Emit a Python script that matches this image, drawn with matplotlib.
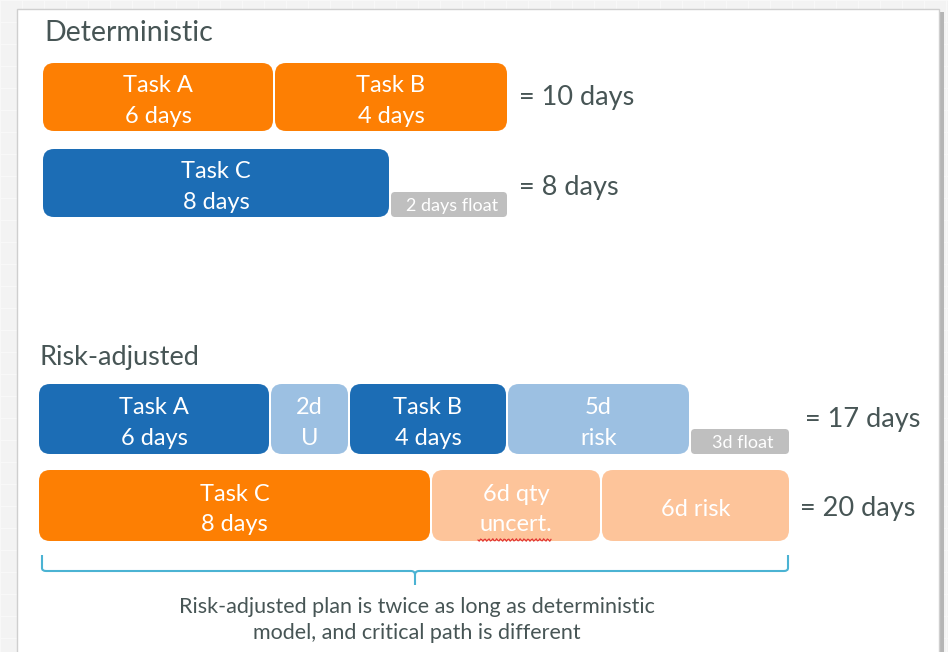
import numpy as np
import matplotlib.pyplot as plt
from matplotlib.patches import FancyBboxPatch, Rectangle, PathPatch
from matplotlib.path import Path

plt.rcParams['font.family'] = ['Lato', 'DejaVu Sans']

# segment lengths as drawn on the slide (x units), labels and colour keys per row
det_row1_labels = ["Task A\n6 days", "Task B\n4 days"]
det_row1_widths = [232, 234]
det_row1_kinds = ["orange", "orange"]
det_row1_total = "= 10 days"

det_row2_labels = ["Task C\n8 days", "2 days float"]
det_row2_widths = [348, 118]
det_row2_kinds = ["blue", "float"]
det_row2_total = "= 8 days"

risk_row1_labels = ["Task A\n6 days", "2d\nU", "Task B\n4 days", "5d\nrisk", "3d float"]
risk_row1_widths = [232, 79, 158, 183, 100]
risk_row1_kinds = ["blue", "lightblue", "blue", "lightblue", "float"]
risk_row1_total = "= 17 days"

risk_row2_labels = ["Task C\n8 days", "6d qty\nuncert.", "6d risk"]
risk_row2_widths = [393, 170, 189]
risk_row2_kinds = ["orange", "lightorange", "lightorange"]
risk_row2_total = "= 20 days"

caption = "Risk-adjusted plan is twice as long as deterministic\nmodel, and critical path is different"

colors = {"orange": "#fd7f03", "blue": "#1c6db5", "lightblue": "#9cc0e2",
          "lightorange": "#fdc49a", "float": "#bfbfbf"}
text_col = "#475555"

fig = plt.figure(figsize=(9.48, 6.52), dpi=100)
fig.patch.set_facecolor("#f3f3f3")
ax = fig.add_axes([0, 0, 1, 1])
ax.set_xlim(0, 948)
ax.set_ylim(652, 0)
ax.axis("off")

# faint grid of the background
for g in range(0, 948, 22):
    ax.axvline(g, color="#f8f8f8", lw=0.8, zorder=0)
for g in range(0, 652, 22):
    ax.axhline(g, color="#f8f8f8", lw=0.8, zorder=0)

# slide panel with shadow
ax.add_patch(Rectangle((21, 12), 923, 660, facecolor="#b5b5b5", edgecolor="none", zorder=1))
ax.add_patch(Rectangle((17, 9), 922, 660, facecolor="white", edgecolor="#cfcfcf", lw=1, zorder=2))


def draw_row(x0, top, height, labels, widths, kinds, total, total_x, total_dy=1):
    x = x0
    for lab, w, k in zip(labels, widths, kinds):
        if k == "float":
            h = 25
            y = top + height - h
            ax.add_patch(FancyBboxPatch((x + 1, y), w - 2, h,
                                        boxstyle="round,pad=0,rounding_size=4",
                                        facecolor=colors[k], edgecolor="none", zorder=3))
            ax.text(x + w / 2 + 3, y + h / 2 + 1, lab, color="white", fontsize=13,
                    ha="center", va="center", zorder=4)
        else:
            ax.add_patch(FancyBboxPatch((x + 1, top), w - 2, height,
                                        boxstyle="round,pad=0,rounding_size=11",
                                        facecolor=colors[k], edgecolor="none", zorder=3))
            ax.text(x + w / 2, top + height / 2 + 4, lab, color="white", fontsize=17,
                    ha="center", va="center", linespacing=1.55, zorder=4)
        x += w
    ax.text(total_x, top + height / 2 + total_dy, total, color=text_col, fontsize=19.5,
            ha="left", va="center", zorder=4)


ax.text(44, 33, "Deterministic", color=text_col, fontsize=20.5, ha="left", va="center", zorder=4)
draw_row(42, 63, 68, det_row1_labels, det_row1_widths, det_row1_kinds, det_row1_total, 519, 1)
draw_row(42, 149, 68, det_row2_labels, det_row2_widths, det_row2_kinds, det_row2_total, 519, 4)

ax.text(40, 357, "Risk-adjusted", color=text_col, fontsize=19.5, ha="left", va="center", zorder=4)
draw_row(38, 384, 70, risk_row1_labels, risk_row1_widths, risk_row1_kinds, risk_row1_total, 805, 1)
draw_row(38, 470, 71, risk_row2_labels, risk_row2_widths, risk_row2_kinds, risk_row2_total, 800, 3)

# red squiggle under "uncert."
sx = np.linspace(478, 551, 60)
ax.plot(sx, 540 + 1.3 * np.sin((sx - 478) * 1.6), color="#e03030", lw=0.8, zorder=5)

# brace under the risk-adjusted rows
left, right, mid, ytop, ybar, ytip = 42, 788, 415, 555, 571, 585
verts = [(left, ytop), (left, ybar - 3), (left, ybar), (left + 4, ybar),
         (mid - 4, ybar), (mid, ybar), (mid, ybar + 4), (mid, ytip),
         (mid, ybar + 4), (mid, ybar), (mid + 4, ybar),
         (right - 4, ybar), (right, ybar), (right, ybar - 3), (right, ytop)]
codes = [Path.MOVETO, Path.LINETO, Path.CURVE3, Path.CURVE3,
         Path.LINETO, Path.CURVE3, Path.CURVE3, Path.LINETO,
         Path.MOVETO, Path.CURVE3, Path.CURVE3,
         Path.LINETO, Path.CURVE3, Path.CURVE3, Path.LINETO]
ax.add_patch(PathPatch(Path(verts, codes), facecolor="none", edgecolor="#4bb3d3", lw=1.5, zorder=4))

ax.text(417, 620, caption, color=text_col, fontsize=15.5, ha="center", va="center",
        linespacing=1.4, zorder=4)

fig.savefig("out.png", dpi=100)
